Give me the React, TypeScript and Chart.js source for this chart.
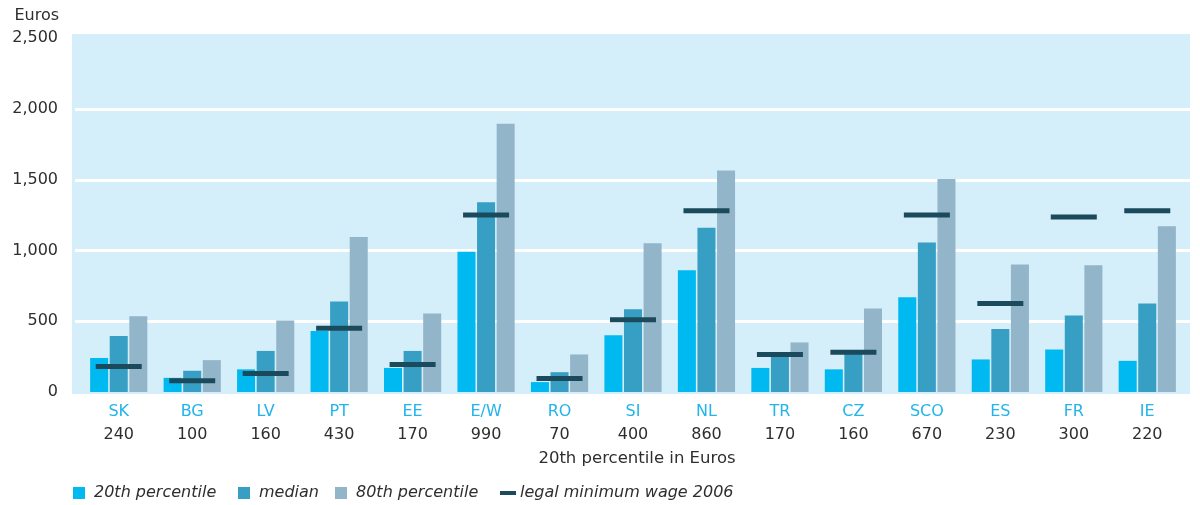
import React, { useEffect, useRef } from "react";
import { Chart, registerables } from "chart.js";

Chart.register(...registerables);

const categories = ["SK", "BG", "LV", "PT", "EE", "E/W", "RO", "SI", "NL", "TR", "CZ", "SCO", "ES", "FR", "IE"];
const p20Labels = ["240", "100", "160", "430", "170", "990", "70", "400", "860", "170", "160", "670", "230", "300", "220"];
const p20 = [240, 100, 160, 430, 170, 990, 70, 400, 860, 170, 160, 670, 230, 300, 220];
const medianVals = [395, 150, 290, 640, 290, 1340, 140, 585, 1160, 255, 270, 1055, 445, 540, 625];
const p80 = [535, 225, 505, 1095, 555, 1895, 265, 1050, 1565, 350, 590, 1505, 900, 895, 1170];
const minWage = [180, 80, 130, 450, 195, 1250, 95, 510, 1280, 265, 280, 1250, 625, 1235, 1280];
const yTicks = [0, 500, 1000, 1500, 2000, 2500];

const C20 = "#00b9f0";
const CMED = "#389fc4";
const C80 = "#93b5c9";
const CMIN = "#1b4a5c";
const SHADE = "#d4eefa";
const TEXT = "#2e2e2e";
const CAT = "#22b4ea";
const FONT = "'DejaVu Sans'";

const decor = {
  id: "decor",
  beforeDraw(chart: any) {
    const { ctx, chartArea, scales } = chart;
    const y = scales.y;
    ctx.save();
    const top = y.getPixelForValue(2500) - 4;
    const bottom = y.getPixelForValue(0) + 2;
    const left = chartArea.left - 10;
    const right = chartArea.right + 6;
    ctx.fillStyle = SHADE;
    ctx.fillRect(left, top, right - left, bottom - top);
    ctx.strokeStyle = "#ffffff";
    ctx.lineWidth = 3;
    yTicks.forEach((v) => {
      if (v === 0 || v === 2500) return;
      const py = Math.round(y.getPixelForValue(v)) + 0.5;
      ctx.beginPath();
      ctx.moveTo(left + 3, py);
      ctx.lineTo(right, py);
      ctx.stroke();
    });
    ctx.restore();
  },
  afterDraw(chart: any) {
    const { ctx, scales } = chart;
    const x = scales.x;
    ctx.save();
    ctx.textBaseline = "middle";
    ctx.textAlign = "center";
    ctx.font = `16px ${FONT}`;
    categories.forEach((c, i) => {
      const px = x.getPixelForValue(i);
      ctx.fillStyle = CAT;
      ctx.fillText(c, px, 412);
      ctx.fillStyle = TEXT;
      ctx.fillText(p20Labels[i], px, 435);
    });
    ctx.font = `16.5px ${FONT}`;
    ctx.fillStyle = TEXT;
    ctx.fillText("20th percentile in Euros", 637, 459);

    ctx.textAlign = "right";
    ctx.font = `16px ${FONT}`;
    ctx.fillText("Euros", 59, 16);

    // legend
    ctx.textAlign = "left";
    ctx.font = `italic 16px ${FONT}`;
    const ly = 493;
    const items = [
      { label: "20th percentile", color: C20, x: 73 },
      { label: "median", color: CMED, x: 238 },
      { label: "80th percentile", color: C80, x: 335 },
    ];
    items.forEach((it) => {
      ctx.fillStyle = it.color;
      ctx.fillRect(it.x, ly - 6, 12, 12);
      ctx.fillStyle = TEXT;
      ctx.fillText(it.label, it.x + 21, ly);
    });
    ctx.fillStyle = CMIN;
    ctx.fillRect(500, ly - 2, 16, 4);
    ctx.fillStyle = TEXT;
    ctx.fillText("legal minimum wage 2006", 520, ly);
    ctx.restore();
  },
};

export default function App() {
  const ref = useRef<HTMLCanvasElement | null>(null);
  useEffect(() => {
    document.body.style.margin = "0";
    const canvas = ref.current;
    if (!canvas) return;
    const barCommon = { categoryPercentage: 0.8, barPercentage: 0.92, borderWidth: 0, order: 1 };
    const chart = new Chart(canvas, {
      type: "bar",
      data: {
        labels: categories,
        datasets: [
          { label: "20th percentile", data: p20, backgroundColor: C20, ...barCommon },
          { label: "median", data: medianVals, backgroundColor: CMED, ...barCommon },
          { label: "80th percentile", data: p80, backgroundColor: C80, ...barCommon },
          {
            type: "line",
            label: "legal minimum wage 2006",
            data: minWage,
            showLine: false,
            pointStyle: "line",
            pointRadius: 23,
            pointHoverRadius: 23,
            pointBorderWidth: 5,
            pointHoverBorderWidth: 5,
            borderColor: CMIN,
            backgroundColor: CMIN,
            order: 0,
            clip: false,
          } as any,
        ],
      },
      options: {
        responsive: false,
        animation: false,
        devicePixelRatio: 1,
        layout: { autoPadding: false, padding: { top: 38, right: 16, bottom: 113, left: 0 } },
        plugins: { legend: { display: false }, tooltip: { enabled: false } },
        events: [],
        scales: {
          x: { display: false, offset: true },
          y: {
            min: 0,
            max: 2500,
            afterBuildTicks: (s: any) => {
              s.ticks = yTicks.map((v) => ({ value: v }));
            },
            afterFit: (s: any) => {
              s.width = 82;
            },
            grid: { display: false, drawTicks: false },
            border: { display: false },
            ticks: {
              padding: 24,
              color: TEXT,
              font: { family: "DejaVu Sans", size: 16 },
              callback: (v: any) => Number(v).toLocaleString("en-US"),
            },
          },
        },
      },
      plugins: [decor],
    });
    return () => chart.destroy();
  }, []);
  return <canvas ref={ref} width={1200} height={505} style={{ display: "block" }} />;
}
